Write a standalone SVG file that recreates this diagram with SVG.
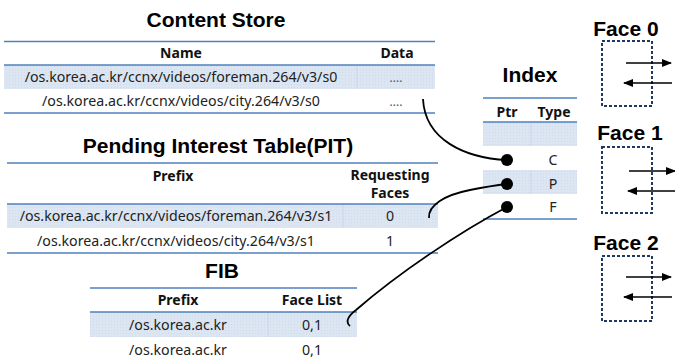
<svg xmlns="http://www.w3.org/2000/svg" width="675" height="360" viewBox="0 0 675 360">
  <defs>
    <pattern id="shade" width="3" height="3" patternUnits="userSpaceOnUse">
      <rect width="3" height="3" fill="#dce6f2"/>
      <rect width="1" height="1" fill="#cfdbea"/>
    </pattern>
    <marker id="arrow" viewBox="0 0 10 10" refX="9" refY="5" markerWidth="6" markerHeight="6" orient="auto">
      <path d="M0,1 L10,5 L0,9 Z" fill="#000"/>
    </marker>
  </defs>
  <style>
    .title { font-family: "Liberation Sans", Arial, sans-serif; font-weight: bold; font-size: 21px; fill: #000; text-anchor: middle; }
    .hdr { font-family: "Noto Sans", "Open Sans", sans-serif; font-weight: bold; font-size: 14px; fill: #111; text-anchor: middle; }
    .cell { font-family: "Noto Sans", "Open Sans", sans-serif; font-size: 14.2px; fill: #222; text-anchor: middle; }
    .dots { font-family: "Noto Sans", sans-serif; font-size: 12px; fill: #555; text-anchor: middle; }
    .rule { stroke: #4f81bd; stroke-width: 1.3; fill: none; }
    .sep { stroke: #c8d6e8; stroke-width: 1; }
    .row { fill: url(#shade); }
    .face { fill: none; stroke: #1f3864; stroke-width: 2; stroke-dasharray: 3 2; }
    .io { stroke: #000; stroke-width: 1.7; marker-end: url(#arrow); }
    .link { fill: none; stroke: #000; stroke-width: 1.8; }
    .ptr { fill: #000; }
  </style>

  <!-- Content Store -->
  <g id="content-store">
    <text class="title" x="216" y="27">Content Store</text>
    <rect class="row" x="4" y="65" width="431" height="24"/>
    <line class="sep" x1="357" y1="65" x2="357" y2="89"/>
    <line class="rule" x1="4" y1="41.5" x2="435" y2="41.5"/>
    <line class="rule" x1="4" y1="65" x2="435" y2="65"/>
    <line class="rule" x1="4" y1="113" x2="435" y2="113"/>
    <text class="hdr" x="181" y="58">Name</text>
    <text class="hdr" x="397" y="58">Data</text>
    <text class="cell" x="181" y="82">/os.korea.ac.kr/ccnx/videos/foreman.264/v3/s0</text>
    <text class="dots" x="396" y="82">....</text>
    <text class="cell" x="181" y="106">/os.korea.ac.kr/ccnx/videos/city.264/v3/s0</text>
    <text class="dots" x="396" y="106">....</text>
  </g>

  <!-- Pending Interest Table -->
  <g id="pit">
    <text class="title" x="218" y="153">Pending Interest Table(PIT)</text>
    <rect class="row" x="7" y="204" width="431" height="24"/>
    <line class="sep" x1="343" y1="204" x2="343" y2="228"/>
    <line class="rule" x1="7" y1="163" x2="438" y2="163"/>
    <line class="rule" x1="7" y1="204" x2="438" y2="204"/>
    <line class="rule" x1="7" y1="253" x2="438" y2="253"/>
    <text class="hdr" x="173" y="181">Prefix</text>
    <text class="hdr" x="390" y="180">Requesting</text>
    <text class="hdr" x="390" y="198">Faces</text>
    <text class="cell" x="176" y="221">/os.korea.ac.kr/ccnx/videos/foreman.264/v3/s1</text>
    <text class="cell" x="390" y="221">0</text>
    <text class="cell" x="176" y="246">/os.korea.ac.kr/ccnx/videos/city.264/v3/s1</text>
    <text class="cell" x="390" y="246">1</text>
  </g>

  <!-- FIB -->
  <g id="fib">
    <text class="title" x="222" y="278">FIB</text>
    <rect class="row" x="90" y="312" width="267" height="25"/>
    <line class="sep" x1="268" y1="312" x2="268" y2="337"/>
    <line class="rule" x1="90" y1="288" x2="357" y2="288"/>
    <line class="rule" x1="90" y1="312" x2="357" y2="312"/>
    <text class="hdr" x="178" y="305">Prefix</text>
    <text class="hdr" x="312" y="305">Face List</text>
    <text class="cell" x="178" y="330">/os.korea.ac.kr</text>
    <text class="cell" x="312" y="330">0,1</text>
    <text class="cell" x="178" y="355">/os.korea.ac.kr</text>
    <text class="cell" x="312" y="355">0,1</text>
  </g>

  <!-- Index -->
  <g id="index">
    <text class="title" x="530" y="82">Index</text>
    <rect class="row" x="483" y="122" width="94" height="24"/>
    <rect class="row" x="483" y="170" width="94" height="24"/>
    <line class="sep" x1="531" y1="122" x2="531" y2="146"/>
    <line class="sep" x1="531" y1="170" x2="531" y2="194"/>
    <line class="rule" x1="483" y1="98" x2="577" y2="98"/>
    <line class="rule" x1="483" y1="122" x2="577" y2="122"/>
    <line class="rule" x1="483" y1="219" x2="577" y2="219"/>
    <text class="hdr" x="507" y="117">Ptr</text>
    <text class="hdr" x="554" y="117">Type</text>
    <text class="cell" x="553" y="165">C</text>
    <text class="cell" x="553" y="189">P</text>
    <text class="cell" x="553" y="212">F</text>
    <circle class="ptr" cx="507" cy="160" r="6"/>
    <circle class="ptr" cx="507" cy="184" r="6"/>
    <circle class="ptr" cx="507" cy="207" r="6"/>
  </g>

  <!-- Faces -->
  <g id="face0">
    <text class="title" x="626" y="36">Face 0</text>
    <rect class="face" x="602" y="41" width="50" height="65"/>
    <line class="io" x1="626" y1="63" x2="671" y2="63"/>
    <line class="io" x1="672" y1="83" x2="624" y2="83"/>
  </g>
  <g id="face1">
    <text class="title" x="630" y="140">Face 1</text>
    <rect class="face" x="602" y="147" width="50" height="66"/>
    <line class="io" x1="629" y1="171" x2="675" y2="171"/>
    <line class="io" x1="675" y1="191" x2="628" y2="191"/>
  </g>
  <g id="face2">
    <text class="title" x="626" y="250">Face 2</text>
    <rect class="face" x="602" y="256" width="50" height="65"/>
    <line class="io" x1="626" y1="277" x2="671" y2="277"/>
    <line class="io" x1="672" y1="297" x2="624" y2="297"/>
  </g>

  <!-- Pointers from index entries to table rows -->
  <g id="connectors">
    <path class="link" d="M423,99 C425,140 465,158 507,160"/>
    <path class="link" d="M429,218 C428,205 445,195 470,190 C485,187 498,185 507,184"/>
    <path class="link" d="M350,326 C345,322 348,316 356,310 C400,272 460,232 507,207"/>
  </g>
</svg>
